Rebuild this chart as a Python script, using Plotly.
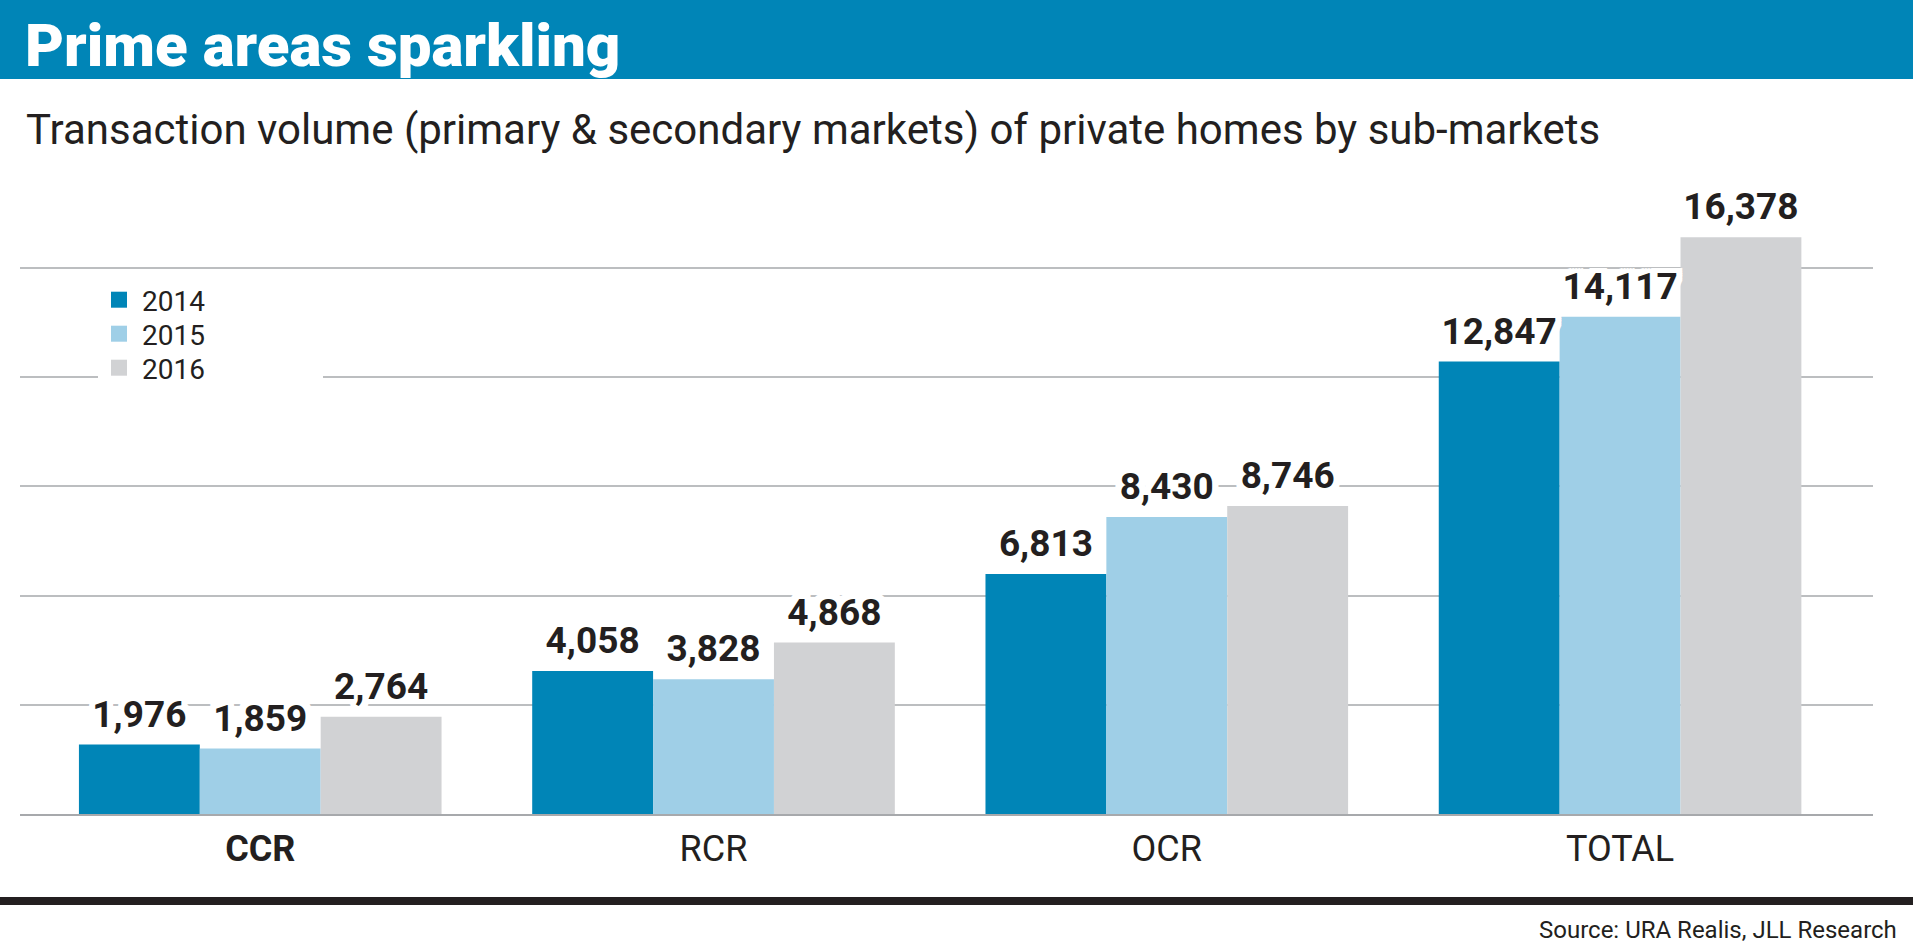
import plotly.graph_objects as go

categories = ["CCR", "RCR", "OCR", "TOTAL"]
years = ["2014", "2015", "2016"]
values_2014 = [1976, 4058, 6813, 12847]
values_2015 = [1859, 3828, 8430, 14117]
values_2016 = [2764, 4868, 8746, 16378]
series_values = [values_2014, values_2015, values_2016]
colors = ["#0085B7", "#9FCFE7", "#D1D2D4"]
tick_labels = [f"<b>{c}</b>" if c == "CCR" else c for c in categories]

W, H = 1913, 945
ML, MR, MT, MB = 20, 40, 180, 131
PW, PH = W - ML - MR, H - MT - MB


def px_x(x):
    return (x - ML) / PW


def px_y(y):
    return (H - MB - y) / PH


WHITE_BOX = ", ".join(f"white {dx}px {dy}px 0" for dx in (-6, -3, 0, 3, 6) for dy in (-5, -2, 0, 2, 5))

fig = go.Figure()
for name, vals, col in zip(years, series_values, colors):
    fig.add_trace(go.Bar(
        x=categories, y=vals, name=name, marker=dict(color=col, line=dict(width=0)),
        offsetgroup=name, hoverinfo="skip", showlegend=False,
    ))
for name, vals in zip(years, series_values):
    fig.add_trace(go.Scatter(
        x=categories, y=vals, mode="markers+text", offsetgroup=name,
        marker=dict(size=12, opacity=0), text=[f"{v:,}" for v in vals],
        textposition="top center", showlegend=False, hoverinfo="skip",
        textfont=dict(family="Roboto", size=37, color="#231F20", weight="bold", shadow=WHITE_BOX),
        cliponaxis=False,
    ))

legend_ids = ["legend", "legend2", "legend3"]
legend_rows = [300, 334, 368]
for name, col, lid in zip(years, colors, legend_ids):
    fig.add_trace(go.Scatter(
        x=[None], y=[None], mode="markers", name=name, legend=lid,
        marker=dict(symbol="square", size=16, color=col), hoverinfo="skip",
    ))

shapes = [
    dict(type="rect", xref="paper", yref="paper", x0=px_x(-5), x1=px_x(W + 5),
         y0=px_y(79), y1=px_y(-5), fillcolor="#0085B7", line=dict(width=0), layer="above"),
    dict(type="rect", xref="paper", yref="paper", x0=px_x(-5), x1=px_x(W + 5),
         y0=px_y(905), y1=px_y(897), fillcolor="#231F20", line=dict(width=0), layer="above"),
    # white backing behind the legend, breaking the gridline as in the original
    dict(type="rect", xref="paper", yref="paper", x0=px_x(98), x1=px_x(323),
         y0=px_y(392), y1=px_y(285), fillcolor="white", line=dict(width=0), layer="above"),
]
annotations = [
    dict(text="Prime areas sparkling", xref="paper", yref="paper", x=px_x(23), y=px_y(45),
         xanchor="left", yanchor="middle", showarrow=False,
         font=dict(family="Roboto", size=60, color="white", weight=900)),
    dict(text="Transaction volume (primary & secondary markets) of private homes by sub-markets",
         xref="paper", yref="paper", x=px_x(24), y=px_y(129), xanchor="left", yanchor="middle",
         showarrow=False, font=dict(family="Roboto", size=42, color="#231F20")),
    dict(text="Source: URA Realis, JLL Research", xref="paper", yref="paper", x=px_x(1899),
         y=px_y(930), xanchor="right", yanchor="middle", showarrow=False,
         font=dict(family="Roboto", size=24, color="#231F20")),
]

legend_layout = {}
for lid, row in zip(legend_ids, legend_rows):
    legend_layout[lid] = dict(
        x=px_x(96), y=px_y(row), xanchor="left", yanchor="middle", bgcolor="rgba(0,0,0,0)",
        font=dict(family="Roboto", size=28, color="#231F20"),
        itemwidth=36, borderwidth=0,
    )

fig.update_layout(
    width=W, height=H, margin=dict(l=ML, r=MR, t=MT, b=MB, autoexpand=False),
    paper_bgcolor="white", plot_bgcolor="white",
    barmode="group", bargap=0.2, bargroupgap=0, scattermode="group", scattergap=0.2,
    shapes=shapes, annotations=annotations,
    showlegend=True,
    xaxis=dict(type="category", range=[-0.53, 3.558], showgrid=False, showline=True,
               linecolor="#A7A9AC", linewidth=2, ticks="outside", ticklen=2, tickcolor="white",
               tickvals=categories, ticktext=tick_labels,
               tickfont=dict(family="Roboto", size=36, color="#231F20")),
    yaxis=dict(range=[0, 18000], showgrid=True, gridcolor="#BCBEC0", gridwidth=1.5,
               tick0=0, dtick=3100, showticklabels=False, zeroline=False, fixedrange=True),
    **legend_layout,
)

fig.write_html("out.html", config={"displayModeBar": False},
               post_script="document.body.style.margin='0';document.body.style.overflow='hidden';")
